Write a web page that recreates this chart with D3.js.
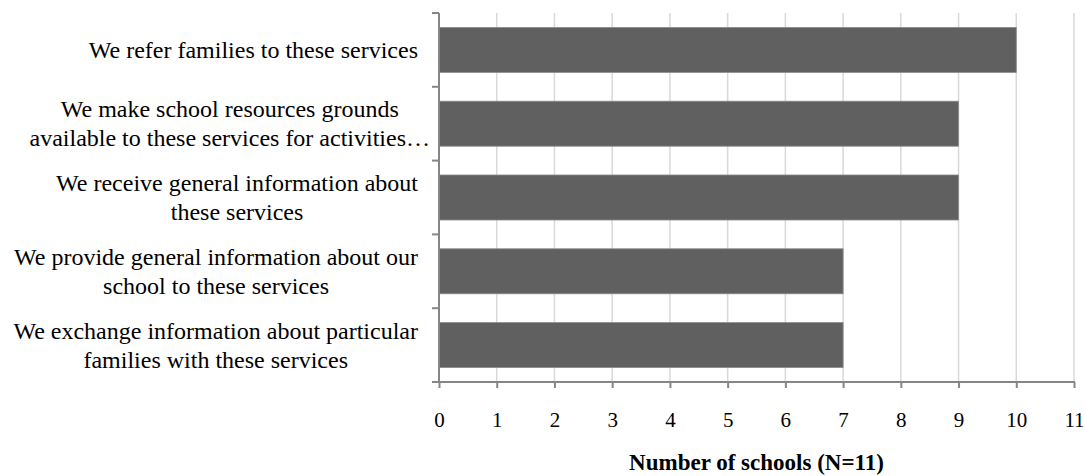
<!DOCTYPE html>
<html>
<head>
<meta charset="utf-8">
<script src="https://cdn.jsdelivr.net/npm/d3@7/dist/d3.min.js"></script>
<style>
  html, body { margin: 0; padding: 0; background: #fff; }
  svg { display: block; }
</style>
</head>
<body>
<svg id="chart" width="1086" height="476"></svg>
<script>
// Survey responses: how schools work with community services
const categories = [
  ["We refer families to these services"],
  ["We make school resources grounds", "available to these services for activities\u2026"],
  ["We receive general information about", "these services"],
  ["We provide general information about our", "school to these services"],
  ["We exchange information about particular", "families with these services"]
];
const schoolCounts = [10, 9, 9, 7, 7];
const xTicks = [0, 1, 2, 3, 4, 5, 6, 7, 8, 9, 10, 11];
const xTitle = "Number of schools (N=11)";

const svg = d3.select("#chart");
const margin = { top: 13, left: 439, right: 12, bottom: 94 };
const W = 1086, H = 476;
const x0 = margin.left, x1 = W - margin.right;
const y0 = margin.top, y1 = H - margin.bottom;

const serif = "'Liberation Serif', 'Times New Roman', serif";
const axisColor = "#868686";

const x = d3.scaleLinear().domain([0, 11]).range([x0, x1]);
const y = d3.scaleBand()
  .domain(d3.range(categories.length))
  .range([y0, y1])
  .paddingInner(0.39)
  .paddingOuter(0.195);

// vertical gridlines
svg.append("g")
  .selectAll("line")
  .data(xTicks.filter(d => d > 0))
  .join("line")
  .attr("x1", d => x(d)).attr("x2", d => x(d))
  .attr("y1", y0).attr("y2", y1)
  .attr("stroke", "#d9d9d9")
  .attr("stroke-width", 1.5);

// bars
svg.append("g")
  .selectAll("rect")
  .data(schoolCounts)
  .join("rect")
  .attr("x", x(0))
  .attr("y", (d, i) => y(i))
  .attr("width", d => x(d) - x(0))
  .attr("height", y.bandwidth())
  .attr("fill", "#606060")
  .attr("stroke", "#8c8c8c")
  .attr("stroke-width", 0.8);

// x axis
const xAxis = svg.append("g")
  .attr("transform", `translate(0,${y1})`)
  .call(d3.axisBottom(x).tickValues(xTicks).tickSize(6).tickPadding(0).tickFormat(d3.format("d")));
xAxis.select(".domain").attr("stroke", axisColor).attr("stroke-width", 2)
  .attr("d", `M${x0 - 7},0H${x1 + 1}`);
xAxis.selectAll(".tick line").attr("stroke", axisColor).attr("stroke-width", 2);
xAxis.selectAll(".tick text")
  .attr("y", 45)
  .attr("dy", 0)
  .attr("fill", "#000")
  .style("font-family", serif)
  .style("font-size", "21px");

// y axis (category boundaries as ticks)
const yAxis = svg.append("g");
yAxis.append("line")
  .attr("x1", x0).attr("x2", x0)
  .attr("y1", y0).attr("y2", y1)
  .attr("stroke", axisColor).attr("stroke-width", 2);
const step = y.step();
const bounds = d3.range(categories.length + 1).map(i => y(0) - y.paddingOuter() * step + i * step);
yAxis.selectAll("line.tk")
  .data(bounds)
  .join("line")
  .attr("class", "tk")
  .attr("x1", x0 - 7).attr("x2", x0)
  .attr("y1", d => d).attr("y2", d => d)
  .attr("stroke", axisColor).attr("stroke-width", 2);

// category labels: each block right-aligned, lines centred within it
const labelRight = 418;
const lineH = 29;
const fs = 24;
const labels = svg.append("g")
  .style("font-family", serif)
  .style("font-size", fs + "px")
  .attr("fill", "#000");

categories.forEach((lines, i) => {
  const g = labels.append("g");
  const cy = y(i) + y.bandwidth() / 2;
  const texts = lines.map((t, k) => g.append("text")
    .attr("text-anchor", "middle")
    .attr("y", cy + (k - (lines.length - 1) / 2) * lineH + fs * 0.33)
    .text(t));
  // block width, ignoring a trailing ellipsis that runs past the edge
  let maxW = 0;
  texts.forEach(t => {
    let w = t.node().getComputedTextLength();
    const s = t.text();
    if (s.endsWith("\u2026")) {
      const tmp = g.append("text").text("\u2026");
      w -= tmp.node().getComputedTextLength();
      tmp.remove();
    }
    maxW = Math.max(maxW, w);
  });
  texts.forEach(t => t.attr("x", labelRight - maxW / 2));
});

// axis title
svg.append("text")
  .attr("x", (x0 + x1) / 2)
  .attr("y", 470)
  .attr("text-anchor", "middle")
  .style("font-family", serif)
  .style("font-size", "23px")
  .style("font-weight", "bold")
  .text(xTitle);
</script>
</body>
</html>
